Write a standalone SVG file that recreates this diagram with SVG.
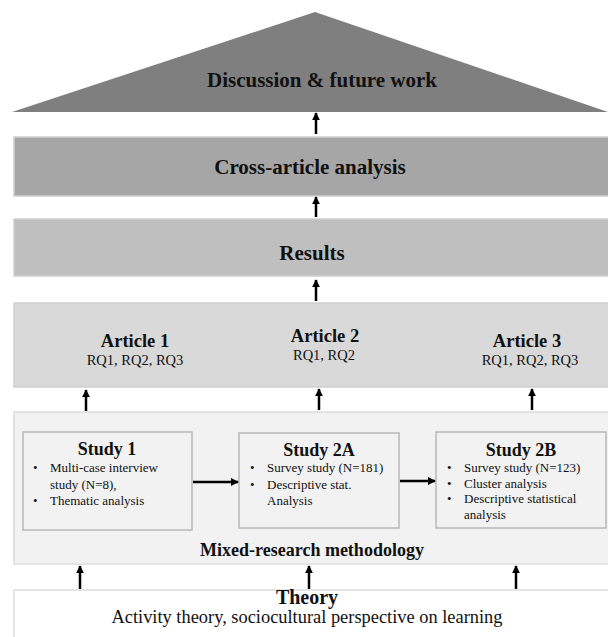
<svg xmlns="http://www.w3.org/2000/svg" width="608" height="637" viewBox="0 0 608 637">
  <style>
    .t { font-family: "Liberation Serif", "Times New Roman", serif; fill: #111; }
    .b { font-weight: bold; }
    .band { stroke: #cfcfcf; stroke-width: 1.5; }
    .study { fill: #f2f2f2; stroke: #b8b8b8; stroke-width: 1.5; }
    .conn line { stroke: #000; stroke-width: 2.5; marker-end: url(#head); }
  </style>
  <defs>
    <marker id="head" viewBox="0 0 10 10" refX="9" refY="5" markerWidth="3.2" markerHeight="3.2" orient="auto" markerUnits="strokeWidth">
      <path d="M0,0 L10,5 L0,10 z" fill="#000"/>
    </marker>
  </defs>
  <rect width="608" height="637" fill="#ffffff"/>

  <g id="discussion">
    <polygon points="12,112 315,12 608,112" fill="#7f7f7f"/>
    <text class="t b" x="322" y="87" font-size="21" text-anchor="middle">Discussion &amp; future work</text>
  </g>

  <g id="cross-article">
    <rect class="band" x="14" y="137" width="600" height="59" fill="#a6a6a6"/>
    <text class="t b" x="310" y="174" font-size="21" text-anchor="middle">Cross-article analysis</text>
  </g>

  <g id="results">
    <rect class="band" x="14" y="219" width="600" height="57" fill="#bfbfbf"/>
    <text class="t b" x="312" y="260" font-size="21" text-anchor="middle">Results</text>
  </g>

  <g id="articles">
    <rect class="band" x="14" y="303" width="600" height="84" fill="#d9d9d9"/>
    <text class="t b" x="135" y="347" font-size="18.5" text-anchor="middle">Article 1</text>
    <text class="t" x="135" y="365" font-size="14.5" text-anchor="middle">RQ1, RQ2, RQ3</text>
    <text class="t b" x="325" y="342" font-size="18.5" text-anchor="middle">Article 2</text>
    <text class="t" x="324" y="360" font-size="14.5" text-anchor="middle">RQ1, RQ2</text>
    <text class="t b" x="527" y="347" font-size="18.5" text-anchor="middle">Article 3</text>
    <text class="t" x="530" y="365" font-size="14.5" text-anchor="middle">RQ1, RQ2, RQ3</text>
  </g>

  <g id="methodology">
    <rect x="14" y="412" width="600" height="152" fill="#f2f2f2" stroke="#dcdcdc" stroke-width="1.5"/>
    <text class="t b" x="312" y="556" font-size="18" text-anchor="middle">Mixed-research methodology</text>
  </g>

  <g id="study1">
    <rect class="study" x="23" y="432" width="169" height="98"/>
    <text class="t b" x="107" y="455" font-size="18" text-anchor="middle">Study 1</text>
    <g class="t" font-size="13">
      <text x="33" y="472">•</text><text x="50" y="472">Multi-case interview</text>
      <text x="50" y="488.5">study (N=8),</text>
      <text x="33" y="505">•</text><text x="50" y="505">Thematic analysis</text>
    </g>
  </g>

  <g id="study2a">
    <rect class="study" x="239" y="433" width="160" height="95"/>
    <text class="t b" x="319" y="456" font-size="18" text-anchor="middle">Study 2A</text>
    <g class="t" font-size="13">
      <text x="250" y="472">•</text><text x="267" y="472">Survey study (N=181)</text>
      <text x="250" y="488.5">•</text><text x="267" y="488.5">Descriptive stat.</text>
      <text x="267" y="505">Analysis</text>
    </g>
  </g>

  <g id="study2b">
    <rect class="study" x="436" y="432" width="170" height="96"/>
    <text class="t b" x="521" y="456" font-size="18" text-anchor="middle">Study 2B</text>
    <g class="t" font-size="13">
      <text x="447" y="472">•</text><text x="464" y="472">Survey study (N=123)</text>
      <text x="447" y="487.5">•</text><text x="464" y="487.5">Cluster analysis</text>
      <text x="447" y="503">•</text><text x="464" y="503">Descriptive statistical</text>
      <text x="464" y="518.5">analysis</text>
    </g>
  </g>

  <g id="theory">
    <rect x="14" y="590" width="600" height="50" fill="#ffffff" stroke="#dcdcdc" stroke-width="1.5"/>
    <text class="t b" x="307" y="604" font-size="20" text-anchor="middle">Theory</text>
    <text class="t" x="307" y="623" font-size="18.4" text-anchor="middle">Activity theory, sociocultural perspective on learning</text>
  </g>

  <g id="connectors" class="conn">
    <line x1="316" y1="134" x2="316" y2="113"/>
    <line x1="316" y1="217" x2="316" y2="197"/>
    <line x1="316" y1="301" x2="316" y2="280"/>
    <line x1="86" y1="411" x2="86" y2="390"/>
    <line x1="319" y1="410" x2="319" y2="389"/>
    <line x1="532" y1="410" x2="532" y2="389"/>
    <line x1="193" y1="482" x2="238" y2="482"/>
    <line x1="400" y1="481" x2="435" y2="481"/>
    <line x1="80" y1="589" x2="80" y2="566"/>
    <line x1="309" y1="589" x2="309" y2="566"/>
    <line x1="516" y1="589" x2="516" y2="566"/>
  </g>
</svg>
